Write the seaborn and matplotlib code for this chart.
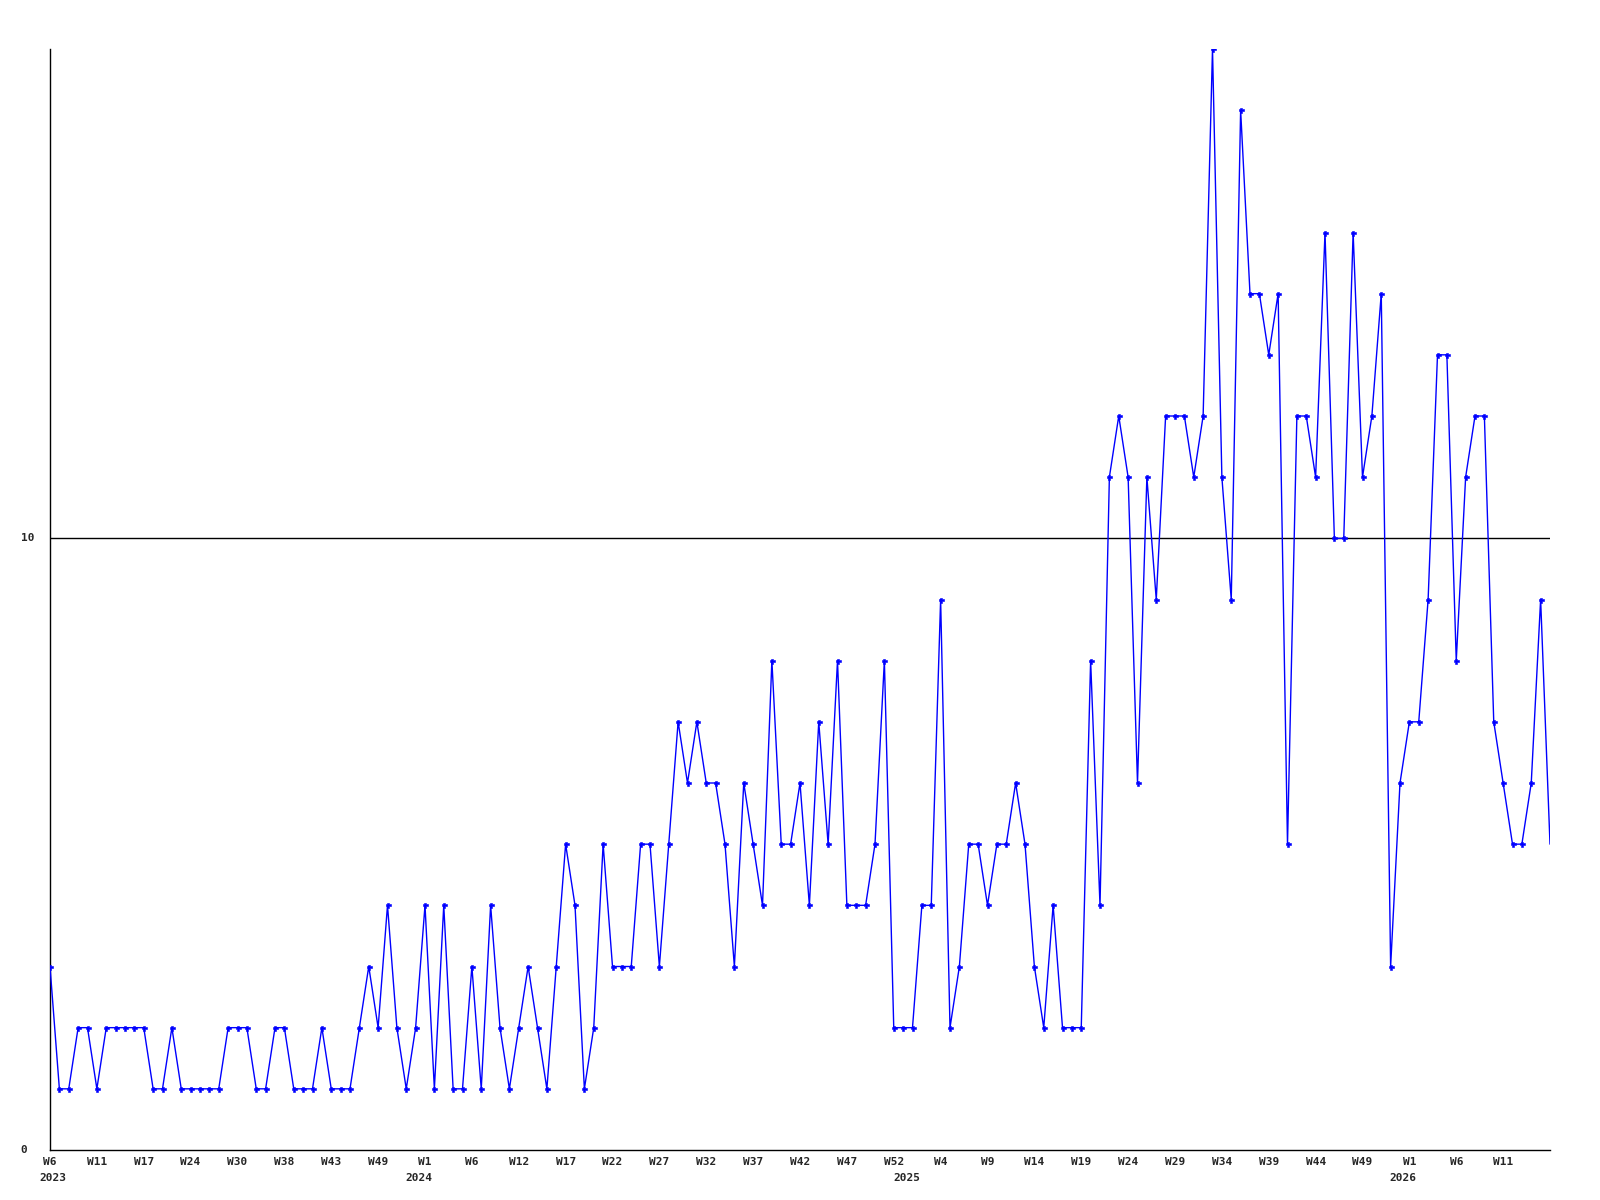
import numpy as np
import pandas as pd
import matplotlib
matplotlib.use("Agg")
import matplotlib.pyplot as plt
import matplotlib.transforms as mtransforms
import seaborn as sns

# Weekly counts, one value per point (2023 W6 .. 2026)
values = [
    3, 1, 1, 2, 2, 1, 2, 2, 2, 2,
    2, 1, 1, 2, 1, 1, 1, 1, 1, 2,
    2, 2, 1, 1, 2, 2, 1, 1, 1, 2,
    1, 1, 1, 2, 3, 2, 4, 2, 1, 2,
    4, 1, 4, 1, 1, 3, 1, 4, 2, 1,
    2, 3, 2, 1, 3, 5, 4, 1, 2, 5,
    3, 3, 3, 5, 5, 3, 5, 7, 6, 7,
    6, 6, 5, 3, 6, 5, 4, 8, 5, 5,
    6, 4, 7, 5, 8, 4, 4, 4, 5, 8,
    2, 2, 2, 4, 4, 9, 2, 3, 5, 5,
    4, 5, 5, 6, 5, 3, 2, 4, 2, 2,
    2, 8, 4, 11, 12, 11, 6, 11, 9, 12,
    12, 12, 11, 12, 18, 11, 9, 17, 14, 14,
    13, 14, 5, 12, 12, 11, 15, 10, 10, 15,
    11, 12, 14, 3, 6, 7, 7, 9, 13, 13,
    8, 11, 12, 12, 7, 6, 5, 5, 6, 9,
    5,
]

# Week labels shown every 5th point
week_labels = [
    "W6", "W11", "W17", "W24", "W30", "W38", "W43", "W49",
    "W1", "W6", "W12", "W17", "W22", "W27", "W32", "W37", "W42", "W47", "W52",
    "W4", "W9", "W14", "W19", "W24", "W29", "W34", "W39", "W44", "W49",
    "W1", "W6", "W11",
]
years = ["2023", "2024", "2025", "2026"]
year_pos = [0.3, 39.3, 91.4, 144.3]

df = pd.DataFrame({"idx": np.arange(len(values)), "count": values})

sns.set_style("white")
plt.rcParams["font.family"] = ["DejaVu Sans Mono"]

fig = plt.figure(figsize=(16, 12), dpi=100)
ax = fig.add_axes([50 / 1600, 1 - 1150 / 1200, 1500 / 1600, 1101 / 1200])

ax.axhline(10, color="black", linewidth=1, zorder=1)
# the last (current) week is drawn without a marker
sns.lineplot(data=df, x="idx", y="count", color="#0000ff", linewidth=1,
             marker="P", markersize=3.6, markeredgecolor="#0000ff",
             markeredgewidth=0.4, markevery=list(range(len(values) - 1)),
             ax=ax, zorder=3)

ax.set_xlabel("")
ax.set_ylabel("")

for side in ["top", "right"]:
    ax.spines[side].set_visible(False)
for side in ["left", "bottom"]:
    ax.spines[side].set_color("black")
    ax.spines[side].set_linewidth(1)

ax.set_xticks(np.arange(0, 5 * len(week_labels), 5))
ax.set_xticklabels(week_labels, fontsize=8, fontweight="bold")
ax.tick_params(axis="x", length=0, pad=5)
ax.set_yticks([])

ax.set_xlim(0, len(values) - 1)
ax.set_ylim(0, 18)

trans = mtransforms.blended_transform_factory(fig.transFigure, ax.transData)
for v in [0, 10]:
    ax.text(20.5 / 1600, v, str(v), transform=trans, ha="left", va="center",
            fontsize=8, fontweight="bold")

trans_x = mtransforms.blended_transform_factory(ax.transData, fig.transFigure)
for pos, yr in zip(year_pos, years):
    ax.text(pos, 1 - 1178 / 1200, yr, transform=trans_x, ha="center",
            va="center", fontsize=8, fontweight="bold")

fig.savefig("out.png", dpi=100)
